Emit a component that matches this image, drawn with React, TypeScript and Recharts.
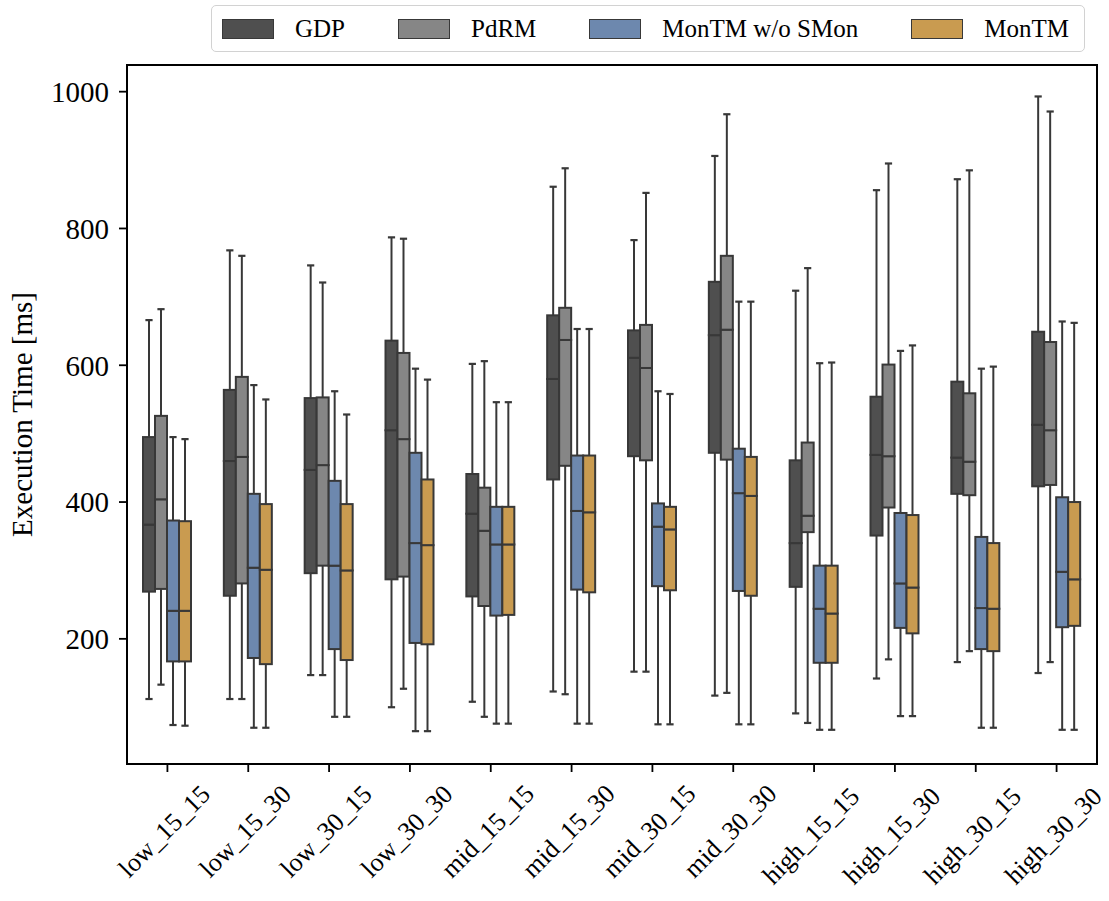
import { ComposedChart, Bar, XAxis, YAxis, ReferenceArea } from "recharts";

const categories = [
  "low_15_15", "low_15_30", "low_30_15", "low_30_30",
  "mid_15_15", "mid_15_30", "mid_30_15", "mid_30_30",
  "high_15_15", "high_15_30", "high_30_15", "high_30_30",
];

// each row: [min, q1, median, q3, max] in ms
const gdpStats = [
  [112, 269, 367, 495, 666],
  [112, 263, 460, 564, 768],
  [147, 296, 447, 552, 746],
  [100, 287, 505, 636, 787],
  [108, 262, 383, 441, 602],
  [123, 433, 580, 673, 861],
  [152, 467, 611, 651, 783],
  [117, 472, 644, 722, 906],
  [91, 276, 340, 461, 709],
  [142, 351, 469, 554, 856],
  [166, 412, 465, 576, 872],
  [150, 423, 513, 649, 993],
];
const pdrmStats = [
  [133, 273, 404, 526, 682],
  [112, 281, 466, 583, 760],
  [147, 307, 454, 553, 721],
  [127, 291, 492, 618, 785],
  [86, 248, 358, 421, 606],
  [119, 453, 637, 684, 888],
  [152, 461, 596, 659, 852],
  [121, 462, 652, 760, 967],
  [77, 356, 380, 487, 742],
  [170, 392, 467, 601, 895],
  [182, 410, 459, 559, 885],
  [166, 425, 505, 634, 971],
];
const montmNoSmonStats = [
  [74, 167, 241, 373, 495],
  [70, 172, 304, 412, 571],
  [86, 185, 307, 431, 562],
  [65, 194, 340, 472, 595],
  [76, 234, 338, 393, 546],
  [76, 272, 387, 468, 653],
  [75, 277, 364, 398, 562],
  [75, 270, 413, 478, 693],
  [67, 165, 244, 307, 603],
  [87, 216, 281, 384, 621],
  [70, 185, 245, 349, 595],
  [67, 217, 298, 407, 664],
];
const montmStats = [
  [73, 167, 241, 372, 492],
  [70, 163, 301, 397, 550],
  [86, 169, 300, 397, 528],
  [65, 192, 337, 433, 579],
  [76, 235, 338, 393, 546],
  [76, 268, 385, 468, 653],
  [75, 271, 360, 393, 558],
  [75, 263, 409, 466, 693],
  [67, 165, 237, 307, 604],
  [87, 208, 275, 381, 629],
  [70, 182, 244, 340, 598],
  [67, 219, 287, 400, 662],
];

const yTicks = [200, 400, 600, 800, 1000];
const yDomain = [17, 1039];

const series = [
  { key: "gdp", name: "GDP", color: "#4f4f4f", stats: gdpStats },
  { key: "pdrm", name: "PdRM", color: "#868686", stats: pdrmStats },
  { key: "nosmon", name: "MonTM w/o SMon", color: "#6d88ae", stats: montmNoSmonStats },
  { key: "montm", name: "MonTM", color: "#c99b50", stats: montmStats },
];

const EDGE = "#383838";
const FONT = "'Liberation Serif', 'Times New Roman', serif";

// stack segments: invisible base, lower whisker, lower box, upper box, upper whisker
const rows = categories.map((cat, i) => {
  const row: Record<string, any> = { cat };
  series.forEach((s) => {
    const [mn, q1, med, q3, mx] = s.stats[i];
    row[s.key + "_base"] = mn;
    row[s.key + "_lw"] = q1 - mn;
    row[s.key + "_lb"] = med - q1;
    row[s.key + "_ub"] = q3 - med;
    row[s.key + "_uw"] = mx - q3;
  });
  return row;
});

const whisker = (lower: boolean) => (props: any) => {
  const { x, y, width, height } = props;
  const cx = x + width / 2;
  const capY = lower ? y + height : y;
  const half = width * 0.3;
  return (
    <g>
      <line x1={cx} x2={cx} y1={y} y2={y + height} stroke={EDGE} strokeWidth={2} />
      <line x1={cx - half} x2={cx + half} y1={capY} y2={capY} stroke={EDGE} strokeWidth={2.2} />
    </g>
  );
};

const boxPart = (color: string) => (props: any) => {
  const { x, y, width, height } = props;
  return <rect x={x} y={y} width={width} height={height} fill={color} stroke={EDGE} strokeWidth={2} />;
};

function XTick(props: any) {
  const { x, y, payload } = props;
  const label = String(payload.value);
  const fs = 26;
  const half = ((label.length * 0.5 + 0.75) * fs * 0.707) / 2;
  const cx = x - 3;
  const cy = y + 9 + half;
  return (
    <text
      x={cx}
      y={cy}
      transform={`rotate(-45 ${cx} ${cy})`}
      textAnchor="middle"
      dominantBaseline="central"
      fontSize={fs}
      fill="#000"
    >
      {label}
    </text>
  );
}

function YLabel(props: any) {
  const vb = props.viewBox || { x: 0, y: 0, height: 0 };
  const cx = vb.x + 22;
  const cy = vb.y + vb.height / 2;
  return (
    <text
      x={cx}
      y={cy}
      transform={`rotate(-90 ${cx} ${cy})`}
      textAnchor="middle"
      dominantBaseline="central"
      fontSize={29}
      fill="#000"
    >
      Execution Time [ms]
    </text>
  );
}

function LegendBox() {
  return (
    <div
      style={{
        position: "absolute",
        left: 211,
        top: 5,
        width: 874,
        height: 47,
        boxSizing: "border-box",
        border: "1.5px solid #d2d2d2",
        borderRadius: 5,
        background: "#fff",
        display: "flex",
        alignItems: "center",
        paddingLeft: 10,
        fontSize: 25,
        color: "#000",
      }}
    >
      {series.map((s, i) => (
        <div
          key={s.key}
          style={{ display: "flex", alignItems: "center", marginRight: i < series.length - 1 ? 53 : 0 }}
        >
          <div
            style={{
              width: 52,
              height: 20,
              boxSizing: "border-box",
              background: s.color,
              border: `1px solid ${EDGE}`,
              marginRight: 21,
            }}
          />
          <span style={{ lineHeight: 1, whiteSpace: "nowrap" }}>{s.name}</span>
        </div>
      ))}
    </div>
  );
}

export default function App() {
  return (
    <div
      style={{
        position: "absolute",
        left: 0,
        top: 0,
        width: 1109,
        height: 901,
        background: "#fff",
        fontFamily: FONT,
      }}
    >
      <ComposedChart
        width={1109}
        height={901}
        data={rows}
        margin={{ top: 65, right: 12, left: 0, bottom: 0 }}
        barGap={0}
        barSize={12}
      >
        <XAxis
          dataKey="cat"
          height={137}
          interval={0}
          tickSize={8}
          axisLine={{ stroke: "#000", strokeWidth: 2 }}
          tickLine={{ stroke: "#000", strokeWidth: 1.8 }}
          tick={<XTick />}
        />
        <YAxis
          type="number"
          domain={yDomain}
          ticks={yTicks}
          allowDataOverflow
          width={127}
          tickSize={8}
          tickMargin={10}
          axisLine={{ stroke: "#000", strokeWidth: 2 }}
          tickLine={{ stroke: "#000", strokeWidth: 1.8 }}
          tick={{ fill: "#000", fontSize: 29 }}
          label={<YLabel />}
        />
        <ReferenceArea
          y1={yDomain[0]}
          y2={yDomain[1]}
          fill="none"
          fillOpacity={0}
          stroke="#000"
          strokeWidth={2}
          ifOverflow="visible"
        />
        {series.flatMap((s) => [
          <Bar key={s.key + "_base"} dataKey={s.key + "_base"} stackId={s.key} fill="none" shape={() => <g />} isAnimationActive={false} />,
          <Bar key={s.key + "_lw"} dataKey={s.key + "_lw"} stackId={s.key} shape={whisker(true)} isAnimationActive={false} />,
          <Bar key={s.key + "_lb"} dataKey={s.key + "_lb"} stackId={s.key} shape={boxPart(s.color)} isAnimationActive={false} />,
          <Bar key={s.key + "_ub"} dataKey={s.key + "_ub"} stackId={s.key} shape={boxPart(s.color)} isAnimationActive={false} />,
          <Bar key={s.key + "_uw"} dataKey={s.key + "_uw"} stackId={s.key} shape={whisker(false)} isAnimationActive={false} />,
        ])}
      </ComposedChart>
      <LegendBox />
    </div>
  );
}
